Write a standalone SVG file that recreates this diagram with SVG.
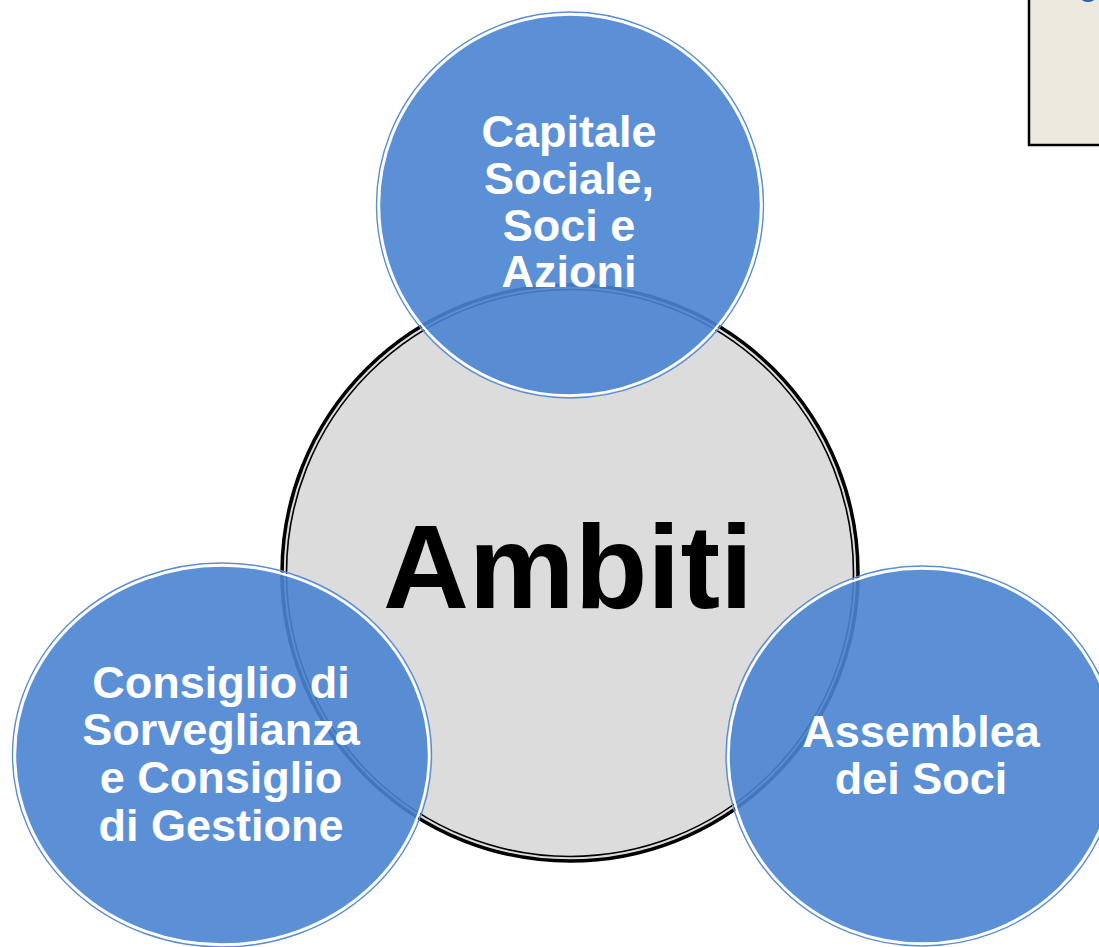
<svg xmlns="http://www.w3.org/2000/svg" width="1099" height="947" viewBox="0 0 1099 947">
<style>
.blue{fill:#4A84D2;fill-opacity:0.9;stroke:#ffffff;stroke-width:2.4}
.ring{fill:none;stroke:#5A8DD5;stroke-width:1.4}
.lbl{font-family:"Liberation Sans",Arial,sans-serif;font-weight:bold;fill:#ffffff;font-size:45px;text-anchor:middle}
</style>
<rect width="1099" height="947" fill="#ffffff"/>
<g id="corner-box">
<rect x="1029" y="-5" width="80" height="150" fill="#ECE9DF" stroke="#000000" stroke-width="2.5"/>
<ellipse cx="1088" cy="-2" rx="7" ry="4" fill="#2F5F9F"/>
</g>
<g id="center">
<circle cx="570" cy="573" r="288" fill="#DCDCDC" stroke="#000000" stroke-width="3.5"/>
<circle cx="570" cy="573" r="283.5" fill="none" stroke="#000000" stroke-width="1.6"/>
<text x="568" y="608" font-family="'Liberation Sans',Arial,sans-serif" font-weight="bold" font-size="119" text-anchor="middle" fill="#000000">Ambiti</text>
</g>
<g id="connectors"></g>
<g id="top">
<ellipse class="ring" cx="570" cy="205" rx="193.5" ry="193"/>
<ellipse class="blue" cx="570" cy="205" rx="191" ry="190.5"/>
<text class="lbl" x="569" y="147">Capitale</text>
<text class="lbl" x="569" y="194">Sociale,</text>
<text class="lbl" x="569" y="241">Soci e</text>
<text class="lbl" x="569" y="287">Azioni</text>
</g>
<g id="left">
<ellipse class="ring" cx="222" cy="755" rx="209.5" ry="192"/>
<ellipse class="blue" cx="222" cy="755" rx="207" ry="189.5"/>
<text class="lbl" x="221" y="698">Consiglio di</text>
<text class="lbl" x="221" y="745">Sorveglianza</text>
<text class="lbl" x="221" y="793">e Consiglio</text>
<text class="lbl" x="221" y="841">di Gestione</text>
</g>
<g id="right">
<ellipse class="ring" cx="922" cy="756" rx="196" ry="190"/>
<ellipse class="blue" cx="922" cy="756" rx="193.5" ry="187.5"/>
<text class="lbl" x="921" y="747">Assemblea</text>
<text class="lbl" x="921" y="794">dei Soci</text>
</g>
</svg>
